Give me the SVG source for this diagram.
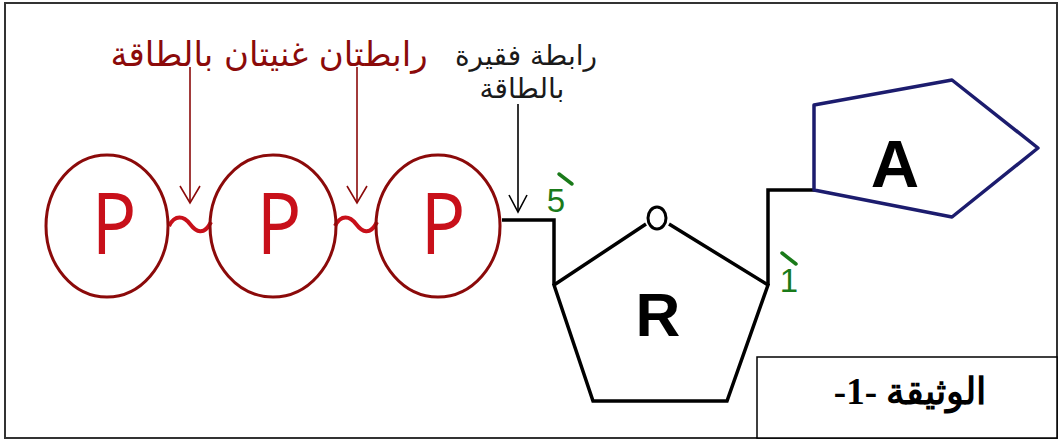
<svg xmlns="http://www.w3.org/2000/svg" width="1062" height="443" viewBox="0 0 1062 443">
<style>
.frame{fill:#fff;stroke:#333;stroke-width:2}
.pc{fill:none;stroke:#8b0a0a;stroke-width:3}
.pt{font-family:"Open Sans","DejaVu Sans",sans-serif;font-size:86px;fill:#c8101a;text-anchor:middle}
.ar{font-family:"DejaVu Sans",sans-serif;text-anchor:middle}
.bond{fill:none;stroke:#000;stroke-width:3.5;stroke-linejoin:miter}
.lbl{font-family:"Liberation Sans",Arial,sans-serif;font-weight:bold;fill:#000;text-anchor:middle}
.num{font-family:"Liberation Sans",Arial,sans-serif;font-size:33px;fill:#1a7a1a;text-anchor:middle}
.acc{stroke:#1a7a1a;stroke-width:3.5;stroke-linecap:round}
.arrow{stroke-width:1.6;fill:none}
.tilde{fill:none;stroke:#c8101a;stroke-width:4}
</style>
<defs>
<marker id="vr" viewBox="0 0 20 24" refX="18" refY="12" markerWidth="20" markerHeight="24" markerUnits="userSpaceOnUse" orient="auto">
<polyline points="1,2 18,12 1,22" fill="none" stroke="#8b0a0a" stroke-width="1.6"/>
</marker>
<marker id="vb" viewBox="0 0 20 24" refX="18" refY="12" markerWidth="20" markerHeight="24" markerUnits="userSpaceOnUse" orient="auto">
<polyline points="1,3 18,12 1,21" fill="none" stroke="#000" stroke-width="1.6"/>
</marker>
</defs>
<rect class="frame" x="5" y="3" width="1052" height="435"/>

<g id="labels">
<text class="ar" x="269" y="66" font-size="34" fill="#8b0a0a" direction="rtl">رابطتان غنيتان بالطاقة</text>
<text class="ar" x="526" y="65" font-size="28" fill="#1a1a1a" direction="rtl">رابطة فقيرة</text>
<text class="ar" x="522" y="98" font-size="28" fill="#1a1a1a" direction="rtl">بالطاقة</text>
</g>

<g id="connectors">
<line class="arrow" stroke="#8b0a0a" x1="190" y1="67" x2="190" y2="203" marker-end="url(#vr)"/>
<line class="arrow" stroke="#8b0a0a" x1="357" y1="67" x2="357" y2="203" marker-end="url(#vr)"/>
<line class="arrow" stroke="#000" x1="518" y1="104" x2="518" y2="212" marker-end="url(#vb)"/>
<path class="tilde" d="M169,226 C175,214 184,216 190,224 S204,236 211,222"/>
<path class="tilde" d="M335,226 C341,214 350,216 356,224 S370,236 377,222"/>
<polyline class="bond" points="502,220 554,220 554,285"/>
<polyline class="bond" points="768,285 768,190 815,190"/>
</g>

<g id="p1">
<ellipse class="pc" cx="107" cy="226" rx="61" ry="71"/>
<text class="pt" transform="translate(114,254) scale(0.87,1)">P</text>
</g>
<g id="p2">
<ellipse class="pc" cx="273" cy="226" rx="63" ry="71"/>
<text class="pt" transform="translate(279,254) scale(0.87,1)">P</text>
</g>
<g id="p3">
<ellipse class="pc" cx="438" cy="226" rx="62" ry="71"/>
<text class="pt" transform="translate(443,254) scale(0.87,1)">P</text>
</g>

<g id="ribose">
<polyline class="bond" points="646,224 554,285 593,401 727,401 768,285 669,224"/>
<ellipse cx="657" cy="218" rx="9" ry="11" fill="none" stroke="#000" stroke-width="3"/>
<text class="lbl" x="658" y="336" font-size="62">R</text>
<text class="num" x="556" y="212">5</text>
<line class="acc" x1="559" y1="174" x2="572" y2="184"/>
<text class="num" x="789" y="292" font-family="'Liberation Serif',serif">1</text>
<line class="acc" x1="782" y1="253" x2="796" y2="264"/>
</g>

<g id="adenine">
<polygon points="814,105 952,80 1038,148 952,217 814,190" fill="#fff" stroke="#1c1c6e" stroke-width="3.5" stroke-linejoin="round"/>
<text class="lbl" x="895" y="187" font-size="67">A</text>
</g>

<g id="doc">
<rect x="757" y="357" width="300" height="81" fill="#fff" stroke="#000" stroke-width="1.5"/>
<text x="910" y="404" font-family="'Liberation Serif','DejaVu Serif',serif" font-weight="bold" font-size="37" text-anchor="middle" direction="rtl">الوثيقة -1-</text>
</g>
</svg>
